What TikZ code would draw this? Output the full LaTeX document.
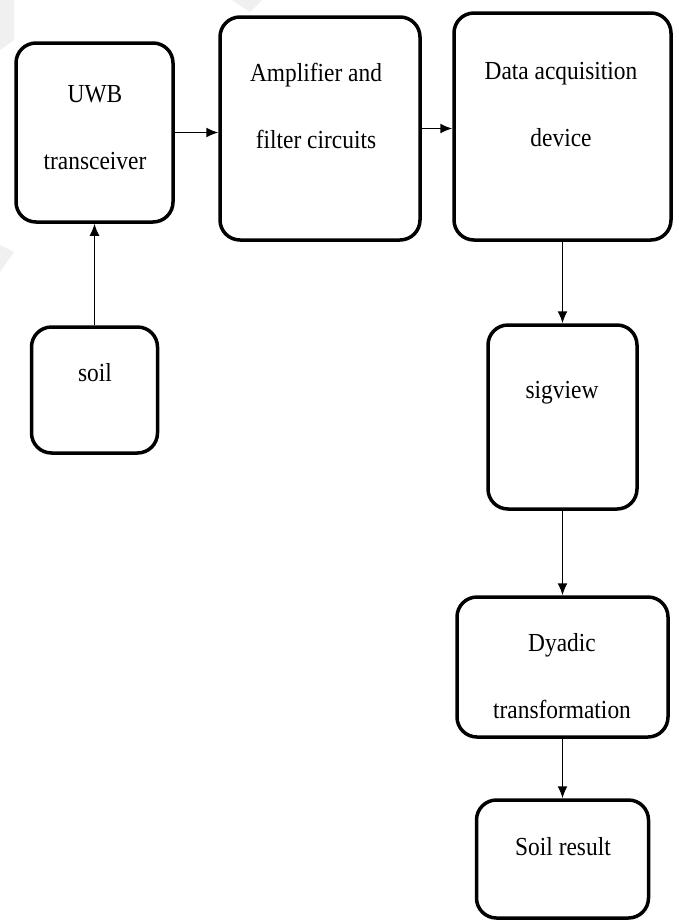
\documentclass[tikz,border=0pt]{standalone}
\usepackage{fontspec}
\setmainfont{Liberation Serif}[FakeStretch=0.9]
\usetikzlibrary{arrows.meta}

\begin{document}
\begin{tikzpicture}[x=1pt, y=-1pt]
\tikzset{block/.style = {shape=rectangle, draw, line width=3.5pt, rounded corners=20pt, inner sep=0pt}}
\tikzset{label/.style = {align=center, font=\fontsize{26}{67}\selectfont}}
\tikzset{edge/.style = {-{Latex[length=12pt,width=10pt]}, line width=1.5pt}}
\useasboundingbox (0,0) rectangle (679,922);

% watermark
\fill[gray!12] (0,0) -- (14,0) -- (14,40) -- (0,50) -- cycle;
\fill[gray!12] (0,245) -- (14,252) -- (0,272) -- cycle;
\fill[gray!12] (232,0) -- (262,0) -- (250,12) -- cycle;

% vertices
\node[block, minimum width=157pt, minimum height=179pt] (uwb) at (94.5,132.5) {};
\node[block, minimum width=200pt, minimum height=223pt] (amp) at (320,128.5) {};
\node[block, minimum width=217pt, minimum height=227pt] (daq) at (562.5,126.5) {};
\node[block, minimum width=126pt, minimum height=126pt] (soil) at (94.5,390) {};
\node[block, minimum width=149pt, minimum height=184pt] (sig) at (562.5,417) {};
\node[block, minimum width=211pt, minimum height=140pt] (dya) at (562.5,667) {};
\node[block, minimum width=172pt, minimum height=118pt] (res) at (562.5,859) {};

% texts
\node[label] (tuwb) at (95,128) {UWB\\transceiver};
\node[label] (tamp) at (316,106) {Amplifier and\\filter circuits};
\node[label] (tdaq) at (561,105) {Data acquisition\\device};
\node[label] (tsoil) at (95,373) {soil};
\node[label] (tsig) at (562,393) {sigview};
\node[label] (tdya) at (562,676) {Dyadic\\transformation};
\node[label] (tres) at (563,847) {Soil result};

%edges
\draw[edge] (uwb.east) to (amp.west |- uwb.east);
\draw[edge] (amp.east) to (daq.west |- amp.east);
\draw[edge] (soil.north) to (uwb.south);
\draw[edge] (daq.south) to (sig.north);
\draw[edge] (sig.south) to (dya.north);
\draw[edge] (dya.south) to (res.north);
\end{tikzpicture}
\end{document}
